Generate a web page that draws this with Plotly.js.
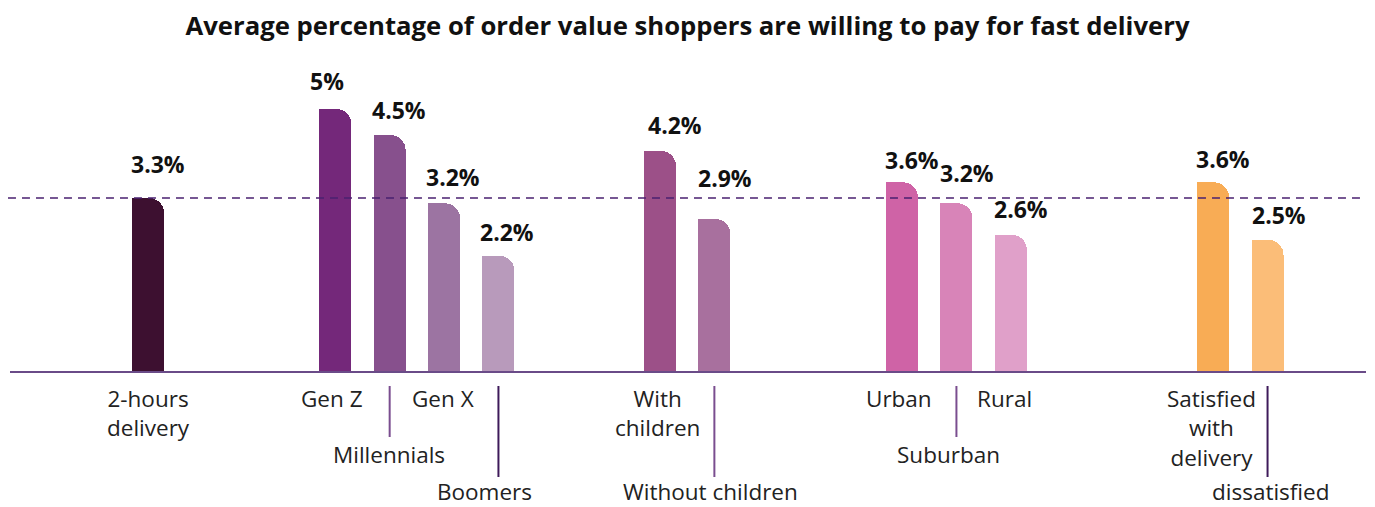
<!DOCTYPE html>
<html>
<head>
<meta charset="utf-8">
<script src="https://cdn.plot.ly/plotly-3.0.1.min.js"></script>
<style>
html,body{margin:0;padding:0;background:#fff;}
#chart{width:1375px;height:507px;}
</style>
</head>
<body>
<div id="chart"></div>
<script>
// ---- data ----
var categories = ['2-hours delivery', 'Gen Z', 'Millennials', 'Gen X', 'Boomers',
  'With children', 'Without children', 'Urban', 'Suburban', 'Rural',
  'Satisfied with delivery', 'dissatisfied'];
var values = [3.3, 5, 4.5, 3.2, 2.2, 4.2, 2.9, 3.6, 3.2, 2.6, 3.6, 2.5];
var valueLabels = ['3.3%', '5%', '4.5%', '3.2%', '2.2%', '4.2%', '2.9%', '3.6%', '3.2%', '2.6%', '3.6%', '2.5%'];
var tickLabels = ['2-hours<br>delivery', 'Gen Z', 'Millennials', 'Gen X', 'Boomers',
  'With<br>children', 'Without children', 'Urban', 'Suburban', 'Rural',
  'Satisfied<br>with<br>delivery', 'dissatisfied'];
var referenceLine = 3.3;

// ---- layout helpers (positions / styles) ----
var xPos = [0, 3.44, 4.44, 5.44, 6.44, 9.41, 10.41, 13.86, 14.86, 15.86, 19.58, 20.58];
var colors = ['#3d1030', '#74287a', '#87508d', '#9c74a2', '#b89abb',
  '#9c5088', '#a8709e', '#cf63a6', '#d884b8', '#e0a0c9', '#f8ac55', '#fbbd78'];
var labelLevel = [1, 1, 3, 1, 4, 1, 4, 1, 3, 1, 1, 4];
var labelXShift = [0, -3, -1, -1, -14, -2, -4, -3, -8, -6, -2, 3];
var valueXShift = [10, -8, 9, 9, 9, 15, 11, 10, 11, 10, 10, 11];
var valueYShift = [9, 3, 0, 1, -1, 1, 16, -3, 5, 1, -2, 0];
var levelShift = {1: -10, 3: -66, 4: -103};
var leaderColor = ['', '', '#7a4d8f', '', '#3e1a5a', '', '#7a4d8f', '', '#7a4d8f', '', '', '#3e1a5a'];

var barW = 0.588;
var FONT = 'Open Sans, Lato, sans-serif';

var traces = [
  {
    type: 'bar', x: xPos, y: values, width: barW,
    marker: {color: colors, cornerradius: 16, line: {width: 0}},
    hovertext: categories, hoverinfo: 'text+y', showlegend: false
  },
  {
    type: 'bar', x: xPos, y: values, width: barW / 2, offset: -barW / 2,
    marker: {color: colors, line: {width: 0}},
    hoverinfo: 'skip', showlegend: false
  }
];

var annotations = [];
var shapes = [];
for (var i = 0; i < values.length; i++) {
  annotations.push({
    x: xPos[i], y: values[i], xref: 'x', yref: 'y',
    text: valueLabels[i], showarrow: false,
    xanchor: 'center', yanchor: 'bottom', xshift: valueXShift[i], yshift: 7 + valueYShift[i],
    font: {family: FONT, size: 23, color: '#111', weight: 'bold'}
  });
  annotations.push({
    x: xPos[i], y: 0, xref: 'x', yref: 'paper',
    text: tickLabels[i], showarrow: false,
    xanchor: 'center', yanchor: 'top', xshift: labelXShift[i], yshift: levelShift[labelLevel[i]],
    font: {family: FONT, size: 22.5, color: '#222'}
  });
  if (labelLevel[i] > 1) {
    var y1 = labelLevel[i] === 3 ? -66 / 311 : -106 / 311;
    shapes.push({
      type: 'line', xref: 'x', yref: 'paper',
      x0: xPos[i], x1: xPos[i], y0: -15 / 311, y1: y1,
      line: {color: leaderColor[i], width: 2}
    });
  }
}
shapes.push({
  type: 'line', xref: 'paper', yref: 'y', x0: -0.0015, x1: 1, y0: referenceLine, y1: referenceLine,
  line: {color: '#4a2070', width: 1.5, dash: '8px,6px'}, layer: 'above'
});

var layout = {
  width: 1375, height: 507,
  margin: {l: 10, r: 9, t: 60, b: 136},
  paper_bgcolor: '#fff', plot_bgcolor: '#fff',
  barmode: 'overlay', bargap: 0,
  title: {
    text: '<b>Average percentage of order value shoppers are willing to pay for fast delivery</b>',
    x: 0.5, xanchor: 'center', y: 1 - 26 / 507, yanchor: 'middle', yref: 'container',
    font: {family: FONT, size: 25.7, color: '#111'}
  },
  xaxis: {
    range: [-2.54, 22.39], showgrid: false, zeroline: false, showticklabels: false,
    showline: true, linecolor: '#6a4b88', linewidth: 2, ticks: '', fixedrange: true
  },
  yaxis: {
    range: [0, 5.935], showgrid: false, zeroline: false, showticklabels: false,
    showline: false, ticks: '', fixedrange: true
  },
  annotations: annotations,
  shapes: shapes,
  font: {family: FONT}
};

Plotly.newPlot('chart', traces, layout, {displayModeBar: false, staticPlot: true});
</script>
</body>
</html>
